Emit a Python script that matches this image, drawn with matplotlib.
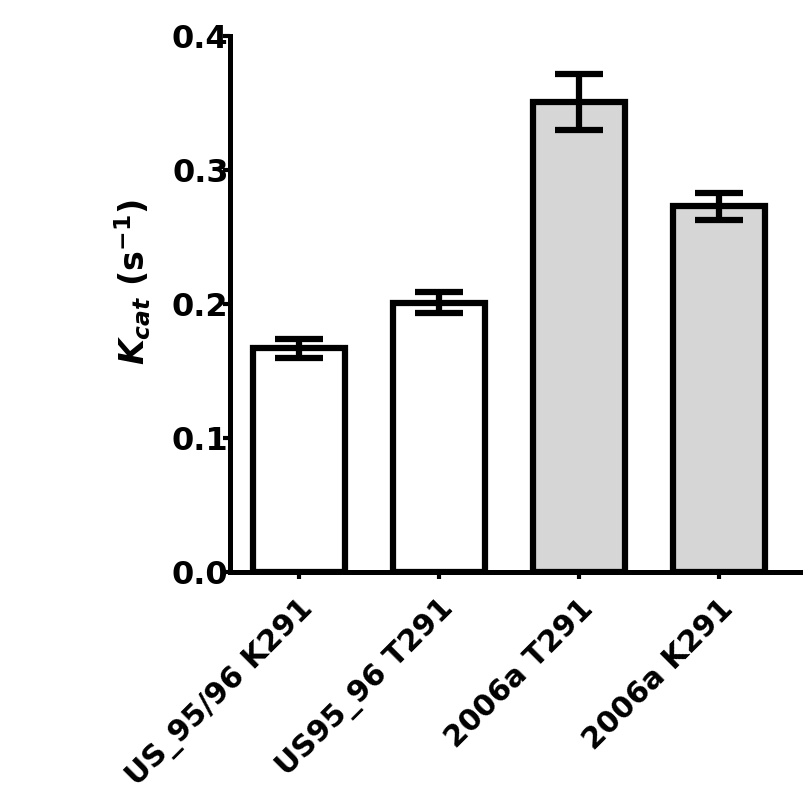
import numpy as np
import matplotlib.pyplot as plt

# Kcat per strain
strains = ['US_95/96 K291', 'US95_96 T291', '2006a T291', '2006a K291']
kcat = [0.167, 0.201, 0.351, 0.273]
kcat_err = [0.007, 0.008, 0.021, 0.010]
fills = ['white', 'white', '#d6d6d6', '#d6d6d6']
yticks = [0.0, 0.1, 0.2, 0.3, 0.4]

plt.rcParams['font.family'] = 'DejaVu Sans'
plt.rcParams['font.weight'] = 'bold'
plt.rcParams['mathtext.fontset'] = 'custom'
plt.rcParams['mathtext.it'] = 'DejaVu Sans:italic:bold'
plt.rcParams['mathtext.rm'] = 'DejaVu Sans:bold'

fig = plt.figure(figsize=(8.11, 8.0), dpi=100)
ax = fig.add_axes([230/811, 1 - 572/800, (800 - 230)/811, (572 - 36)/800])

x = np.arange(len(strains))
ax.bar(x, kcat, width=0.66, color=fills, edgecolor='black', linewidth=4.5, zorder=2)
ax.errorbar(x, kcat, yerr=kcat_err, fmt='none', ecolor='black',
            elinewidth=4.5, capsize=17, capthick=4.5, zorder=3)

ax.set_xlim(-0.493, 3.58)
ax.set_ylim(0, 0.4)
ax.set_yticks(yticks)
ax.set_yticklabels(['%.1f' % v for v in yticks], fontsize=23, fontweight='bold')
ax.set_xticks(x)
ax.set_xticklabels(strains, rotation=45, ha='right', rotation_mode='anchor',
                   fontsize=21.5, fontweight='bold')

for side in ['top', 'right']:
    ax.spines[side].set_visible(False)
for side in ['left', 'bottom']:
    ax.spines[side].set_linewidth(3.6)
ax.tick_params(axis='y', direction='out', length=5, width=3, pad=-4)
ax.tick_params(axis='x', direction='out', length=5, width=3, pad=11)

ax.set_ylabel(r'$K_{cat}$ (s$^{\mathregular{-1}}$)', fontsize=24, fontweight='bold')
ax.yaxis.set_label_coords(-0.135, 0.54)

fig.savefig('out.png', dpi=100)
